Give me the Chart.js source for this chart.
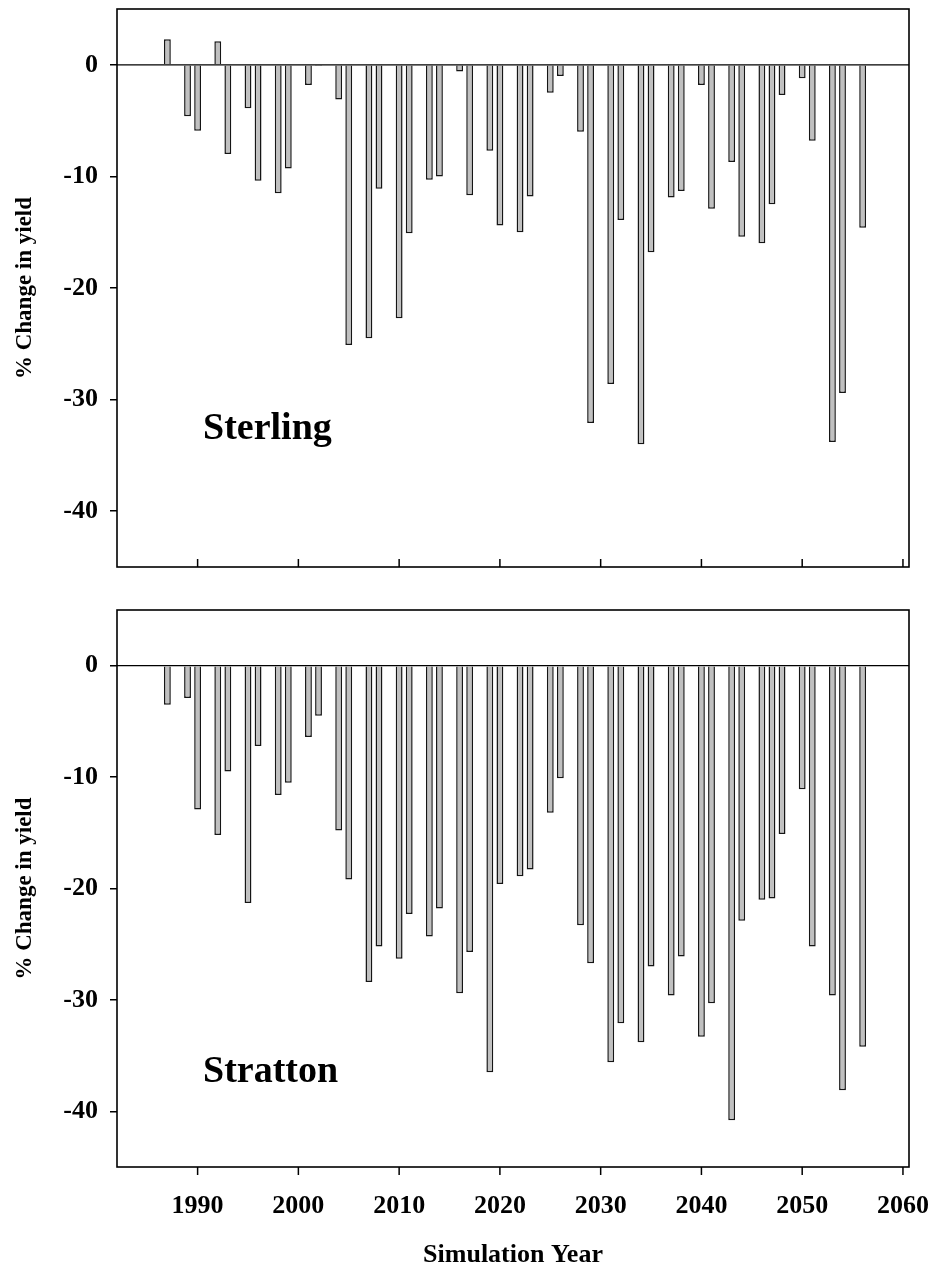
<!DOCTYPE html>
<html>
<head>
<meta charset="utf-8">
<script src="https://cdn.jsdelivr.net/npm/chart.js@4.4.1/dist/chart.umd.min.js"></script>
<style>
  html, body { margin: 0; padding: 0; background: #fff; }
  #wrap { position: relative; width: 935px; height: 1271px; }
  canvas { position: absolute; left: 0; }
  #sterlingChart { top: 0; }
  #strattonChart { top: 590px; }
</style>
</head>
<body>
<div id="wrap">
  <canvas id="sterlingChart" width="935" height="590"></canvas>
  <canvas id="strattonChart" width="935" height="681"></canvas>
</div>
<script>
// simulated years and % change in yield for each site
const years = [1987, 1989, 1990, 1992, 1993, 1995, 1996, 1998, 1999, 2001, 2002, 2004, 2005, 2007, 2008,
	2010, 2011, 2013, 2014, 2016, 2017, 2019, 2020, 2022, 2023, 2025, 2026, 2028, 2029, 2031, 2032,
	2034, 2035, 2037, 2038, 2040, 2041, 2043, 2044, 2046, 2047, 2048, 2050, 2051, 2053, 2054, 2056];
const sterling = [2.3, -4.6, -5.9, 2.1, -8.0, -3.9, -10.4, -11.5, -9.3, -1.8, -0.1, -3.1, -25.1, -24.5, -11.1,
	-22.7, -15.1, -10.3, -10.0, -0.6, -11.7, -7.7, -14.4, -15.0, -11.8, -2.5, -1.0, -6.0, -32.1, -28.6, -13.9,
	-34.0, -16.8, -11.9, -11.3, -1.8, -12.9, -8.7, -15.4, -16.0, -12.5, -2.7, -1.2, -6.8, -33.8, -29.4, -14.6];
const stratton = [-3.5, -2.9, -12.9, -15.2, -9.5, -21.3, -7.2, -11.6, -10.5, -6.4, -4.5, -14.8, -19.2, -28.4, -25.2,
	-26.3, -22.3, -24.3, -21.8, -29.4, -25.7, -36.5, -19.6, -18.9, -18.3, -13.2, -10.1, -23.3, -26.7, -35.6, -32.1,
	-33.8, -27.0, -29.6, -26.1, -33.3, -30.3, -40.8, -22.9, -21.0, -20.9, -15.1, -11.1, -25.2, -29.6, -38.1, -34.2];
const yearTicks = [1990, 2000, 2010, 2020, 2030, 2040, 2050, 2060];
const yieldTicks = [-40, -30, -20, -10, 0];

const serif = '"Liberation Serif", "Times New Roman", serif';

// box, zero line, year tick marks and the site name
const frame = {
	id: 'frame',
	afterDatasetsDraw(chart, args, opts) {
		const {ctx, chartArea: a, scales: {x, y}} = chart;
		ctx.save();
		ctx.strokeStyle = '#000';
		ctx.lineWidth = 1.3;
		const y0 = y.getPixelForValue(0);
		ctx.beginPath();
		ctx.moveTo(a.left, y0);
		ctx.lineTo(a.right, y0);
		ctx.stroke();
		ctx.lineWidth = 1.6;
		ctx.strokeRect(a.left, a.top, a.right - a.left, a.bottom - a.top);
		// year ticks point up on the top panel, down on the bottom one
		const dir = opts.ticksInside ? -1 : 1;
		ctx.lineWidth = 1.5;
		yearTicks.forEach(v => {
			const px = x.getPixelForValue(v);
			ctx.beginPath();
			ctx.moveTo(px, a.bottom);
			ctx.lineTo(px, a.bottom + dir * 8);
			ctx.stroke();
		});
		ctx.font = 'bold 38px ' + serif;
		ctx.fillStyle = '#000';
		ctx.textBaseline = 'alphabetic';
		ctx.fillText(opts.name, a.left + opts.nameX, a.top + opts.nameY);
		ctx.restore();
	}
};

function makeChart(id, values, o) {
	return new Chart(document.getElementById(id), {
		type: 'bar',
		data: {
			datasets: [{
				data: years.map((yr, i) => ({x: yr, y: values[i]})),
				backgroundColor: '#c0c0c0',
				borderColor: '#151515',
				borderWidth: 1.5,
				barPercentage: 0.68,
				categoryPercentage: 1
			}]
		},
		options: {
			responsive: false,
			animation: false,
			devicePixelRatio: 1,
			layout: {padding: {left: 0, right: 26, top: o.top, bottom: 0}},
			plugins: {
				legend: {display: false},
				tooltip: {enabled: false},
				frame: {name: o.name, nameX: 86, nameY: o.nameY, ticksInside: !o.showYears}
			},
			scales: {
				x: {
					type: 'linear',
					min: 1982,
					max: 2060.6,
					offset: false,
					afterBuildTicks: s => { s.ticks = yearTicks.map(v => ({value: v})); },
					afterFit: s => { s.height = o.xHeight; s.paddingLeft = 0; s.paddingRight = 0; },
					grid: {display: false},
					border: {display: false},
					ticks: {
						display: o.showYears,
						color: '#000',
						padding: 16,
						maxRotation: 0,
						autoSkip: false,
						callback: v => String(v),
						font: {family: serif, weight: 'bold', size: 26}
					},
					title: {
						display: o.showYears,
						text: 'Simulation Year',
						color: '#000',
						padding: {top: 0, bottom: 0},
						font: {family: serif, weight: 'bold', size: 26}
					}
				},
				y: {
					min: -45,
					max: 5,
					afterBuildTicks: s => { s.ticks = yieldTicks.map(v => ({value: v})); },
					afterFit: s => { s.width = 117; s.paddingTop = 0; s.paddingBottom = 0; },
					grid: {
						drawOnChartArea: false,
						drawTicks: true,
						tickLength: 7,
						color: '#000',
						lineWidth: 1.5
					},
					border: {display: false},
					ticks: {
						color: '#000',
						padding: 12,
						font: {family: serif, weight: 'bold', size: 26}
					},
					title: {
						display: true,
						text: '% Change in yield',
						color: '#000',
						padding: {top: 11, bottom: 0},
						font: {family: serif, weight: 'bold', size: 23}
					}
				}
			}
		},
		plugins: [frame]
	});
}

makeChart('sterlingChart', sterling, {
	name: 'Sterling', top: 9, xHeight: 23, nameY: 430, showYears: false
});
makeChart('strattonChart', stratton, {
	name: 'Stratton', top: 20, xHeight: 104, nameY: 472, showYears: true
});
</script>
</body>
</html>
